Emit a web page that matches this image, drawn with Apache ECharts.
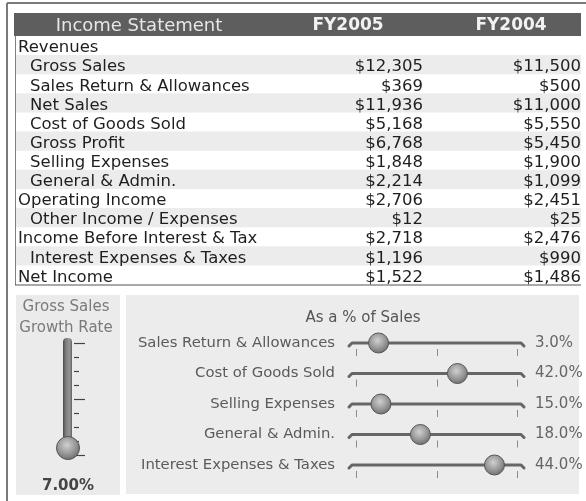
<!DOCTYPE html>
<html>
<head>
<meta charset="utf-8">
<style>
html, body { margin: 0; padding: 0; background: #fff; }
#main { width: 586px; height: 501px; }
</style>
<script src="https://cdn.jsdelivr.net/npm/echarts@6/dist/echarts.min.js"></script>
</head>
<body>
<div id="main"></div>
<script>
// income statement rows
var rowNames = ['Revenues', 'Gross Sales', 'Sales Return & Allowances', 'Net Sales', 'Cost of Goods Sold',
    'Gross Profit', 'Selling Expenses', 'General & Admin.', 'Operating Income', 'Other Income / Expenses',
    'Income Before Interest & Taxes', 'Interest Expenses & Taxes', 'Net Income'];
var rowLevel = [0, 1, 1, 1, 1, 1, 1, 1, 0, 1, 0, 1, 0];
var years = ['FY2005', 'FY2004'];
var fy2005 = [null, 12305, 369, 11936, 5168, 6768, 1848, 2214, 2706, 12, 2718, 1196, 1522];
var fy2004 = [null, 11500, 500, 11000, 5550, 5450, 1900, 1099, 2451, 25, 2476, 990, 1486];

// "as a % of sales" sliders
var ratioNames = ['Sales Return & Allowances', 'Cost of Goods Sold', 'Selling Expenses', 'General & Admin.', 'Interest Expenses & Taxes'];
var ratioPct = [3.0, 42.0, 15.0, 18.0, 44.0];
var knobPos = [14, 63, 15.5, 40, 86];   // knob position on the 0..100 track
var sliderTicks = [0, 50, 100];

// gross sales growth thermometer
var growthRate = 7.00;
var growthKnob = 0.5;   // on the 0..8 scale
var thermoTicks = [0, 1, 2, 3, 4, 5, 6, 7, 8];

var chart = echarts.init(document.getElementById('main'));

function money(v) {
    return v == null ? '' : '$' + v.toLocaleString('en-US');
}

var knobFill = {
    type: 'radial', x: 0.45, y: 0.38, r: 0.65,
    colorStops: [{ offset: 0, color: '#d0d0d0' }, { offset: 0.6, color: '#959595' }, { offset: 1, color: '#686868' }]
};

var colRight = [0.7208, 1.0];   // right edge of value columns, fraction of table width
var tableFont = '16.5px "DejaVu Sans"';

var option = {
    animation: false,
    grid: [
        { left: 15, right: 5, top: 36, height: 248.5 },          // table
        { left: 356, right: 69, top: 327.75, height: 152.5 },    // sliders
        { left: 63, right: 513, top: 343, height: 112 }          // thermometer
    ],
    xAxis: [
        { gridIndex: 0, type: 'value', min: 0, max: 1, show: false },
        { gridIndex: 1, type: 'value', min: 0, max: 100, show: false },
        { gridIndex: 2, type: 'value', min: 0, max: 1, show: false }
    ],
    yAxis: [
        { gridIndex: 0, type: 'category', data: rowNames, inverse: true, show: false },
        {
            gridIndex: 1, type: 'category', data: ratioNames, inverse: true,
            axisLine: { show: false }, axisTick: { show: false },
            axisLabel: { margin: 21, color: '#5a5a5a', fontSize: 14.8, fontFamily: 'DejaVu Sans' }
        },
        {
            gridIndex: 1, type: 'category', position: 'right', inverse: true,
            data: ratioPct.map(function (v) { return v.toFixed(1) + '%'; }),
            axisLine: { show: false }, axisTick: { show: false },
            axisLabel: { margin: 18, color: '#666', fontSize: 15, fontFamily: 'DejaVu Sans' }
        },
        { gridIndex: 2, type: 'value', min: 0, max: 8, show: false }
    ],
    graphic: [
        // outer frame
        { type: 'line', shape: { x1: 7, y1: 3, x2: 586, y2: 3 }, style: { stroke: '#7a7a7a', lineWidth: 2 } },
        { type: 'line', shape: { x1: 7, y1: 3, x2: 7, y2: 501 }, style: { stroke: '#7a7a7a', lineWidth: 2 } },
        // table header
        { type: 'rect', shape: { x: 14, y: 13, width: 567, height: 23 }, style: { fill: '#5e5e5e' } },
        { type: 'text', x: 139, y: 26.5, style: { text: 'Income Statement', fill: '#e6e6e6', font: '18px "DejaVu Sans"', align: 'center', verticalAlign: 'middle' } },
        { type: 'text', x: 348, y: 26, style: { text: years[0], fill: '#f2f2f2', font: 'bold 17px "DejaVu Sans"', align: 'center', verticalAlign: 'middle' } },
        { type: 'text', x: 511, y: 26, style: { text: years[1], fill: '#f2f2f2', font: 'bold 17px "DejaVu Sans"', align: 'center', verticalAlign: 'middle' } },
        // table borders
        { type: 'line', z: 10, shape: { x1: 15.5, y1: 36, x2: 15.5, y2: 285 }, style: { stroke: '#808080', lineWidth: 1 } },
        { type: 'line', z: 10, shape: { x1: 15, y1: 285, x2: 581, y2: 285 }, style: { stroke: '#555', lineWidth: 1 } },
        // bottom panels
        { type: 'rect', z: 0, shape: { x: 16, y: 295, width: 104, height: 200 }, style: { fill: '#ebebeb' } },
        { type: 'rect', z: 0, shape: { x: 126, y: 295, width: 453, height: 199 }, style: { fill: '#ececec' } },
        { type: 'text', x: 66, y: 307, style: { text: 'Gross Sales', fill: '#7a7a7a', font: '15px "DejaVu Sans"', align: 'center', verticalAlign: 'middle' } },
        { type: 'text', x: 66, y: 328.5, style: { text: 'Growth Rate', fill: '#7a7a7a', font: '15px "DejaVu Sans"', align: 'center', verticalAlign: 'middle' } },
        { type: 'text', x: 68, y: 486, style: { text: growthRate.toFixed(2) + '%', fill: '#444', font: 'bold 15px "DejaVu Sans"', align: 'center', verticalAlign: 'middle' } },
        { type: 'text', x: 363, y: 318, style: { text: 'As a % of Sales', fill: '#555', font: '15px "DejaVu Sans"', align: 'center', verticalAlign: 'middle' } }
    ],
    series: [
        {
            // table rows
            type: 'custom', xAxisIndex: 0, yAxisIndex: 0, clip: false,
            data: rowNames.map(function (n, i) { return [0, i]; }),
            renderItem: function (params, api) {
                var i = api.value(1);
                var p = api.coord([0, i]);
                var h = api.size([0, 1])[1];
                var w = api.size([1, 0])[0];
                var kids = [];
                if (i % 2 === 1) {
                    kids.push({ type: 'rect', shape: { x: p[0], y: p[1] - h / 2, width: w, height: h }, style: { fill: '#ececec' } });
                }
                kids.push({
                    type: 'text', x: p[0] + (rowLevel[i] ? 15 : 3), y: p[1] + 2.5,
                    style: {
                        text: rowNames[i], fill: '#1e1e1e', font: tableFont, verticalAlign: 'middle',
                        width: 249 - (rowLevel[i] ? 12 : 0), overflow: 'truncate', ellipsis: ''
                    }
                });
                [fy2005, fy2004].forEach(function (col, c) {
                    var q = api.coord([colRight[c], i]);
                    kids.push({
                        type: 'text', x: q[0], y: q[1] + 2.5,
                        style: { text: money(col[i]), fill: '#1e1e1e', font: tableFont, align: 'right', verticalAlign: 'middle' }
                    });
                });
                return { type: 'group', children: kids };
            }
        },
        {
            // slider tracks and knobs
            type: 'custom', xAxisIndex: 1, yAxisIndex: 1, clip: false,
            data: knobPos.map(function (v, i) { return [v, i]; }),
            renderItem: function (params, api) {
                var i = api.value(1);
                var a = api.coord([0, i]);
                var b = api.coord([100, i]);
                var y = a[1];
                var kids = [{
                    type: 'polyline',
                    shape: { points: [[a[0] - 7, y + 3], [a[0] - 4, y], [b[0] + 4, y], [b[0] + 7, y + 3]] },
                    style: { stroke: '#666', lineWidth: 3, fill: null, lineJoin: 'round', lineCap: 'round' }
                }];
                sliderTicks.forEach(function (t) {
                    var tx = Math.round(api.coord([t, i])[0]) + 0.5;
                    kids.push({ type: 'line', shape: { x1: tx, y1: y + 6, x2: tx, y2: y + 13 }, style: { stroke: '#8a8a8a', lineWidth: 1 } });
                });
                var k = api.coord([api.value(0), i]);
                kids.push({ type: 'circle', shape: { cx: k[0], cy: y, r: 10 }, style: { fill: knobFill, stroke: '#555', lineWidth: 1 } });
                return { type: 'group', children: kids };
            }
        },
        {
            // thermometer tube, scale ticks and knob
            type: 'custom', xAxisIndex: 2, yAxisIndex: 3, clip: false,
            data: [[0.5, growthKnob]],
            renderItem: function (params, api) {
                var top = api.coord([0, 8]);
                var c = api.coord([api.value(0), api.value(1)]);
                var kids = [{
                    type: 'rect', shape: { x: top[0], y: top[1] - 5, width: 9, height: c[1] - top[1] + 5, r: [4, 4, 0, 0] },
                    style: {
                        fill: { type: 'linear', x: 0, y: 0, x2: 1, y2: 0, colorStops: [
                            { offset: 0, color: '#4a4a4a' }, { offset: 0.3, color: '#7c7c7c' },
                            { offset: 0.7, color: '#969696' }, { offset: 1, color: '#666' }] }
                    }
                }];
                thermoTicks.forEach(function (t) {
                    var q = api.coord([1, t]);
                    var ty = Math.round(q[1]) + 0.5;
                    var len = t % 4 === 0 ? 11 : 5;
                    kids.push({ type: 'line', shape: { x1: q[0] + 1, y1: ty, x2: q[0] + 1 + len, y2: ty }, style: { stroke: '#444', lineWidth: 1.2 } });
                });
                kids.push({ type: 'circle', shape: { cx: c[0], cy: c[1], r: 11.5 }, style: { fill: knobFill, stroke: '#555', lineWidth: 1 } });
                return { type: 'group', children: kids };
            }
        }
    ]
};
chart.setOption(option);
</script>
</body>
</html>
